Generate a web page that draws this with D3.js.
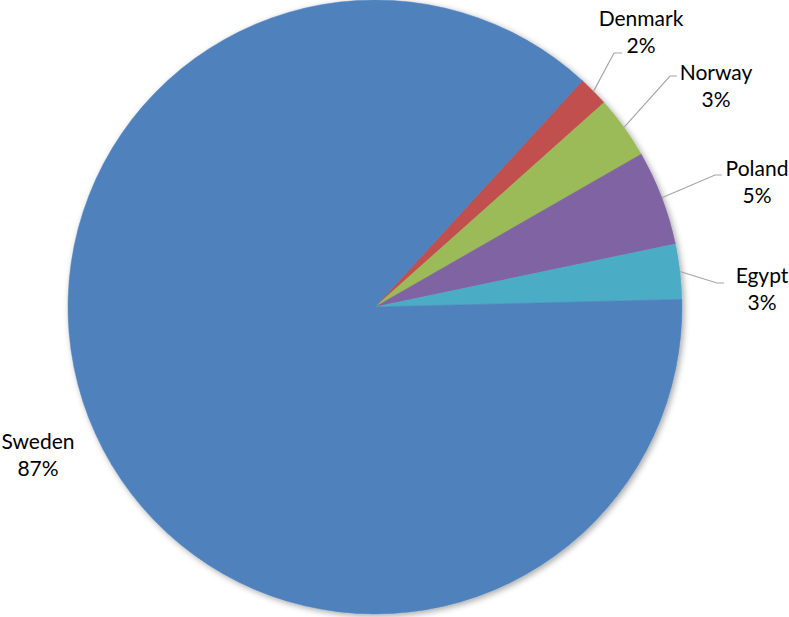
<!DOCTYPE html>
<html>
<head>
<meta charset="utf-8">
<script src="https://cdn.jsdelivr.net/npm/d3@7"></script>
<style>
  html, body { margin: 0; padding: 0; background: #fff; }
  svg { display: block; }
  text { font-family: Lato, "Open Sans", sans-serif; fill: #000; }
</style>
</head>
<body>
<svg id="chart" width="789" height="617"></svg>
<script>
// Share of total by country
const countries = ["Denmark", "Norway", "Poland", "Egypt", "Sweden"];
const shares = [1.6, 3.3, 5.0, 2.9, 87.2];
const colors = ["#C0504D", "#9BBB59", "#8064A2", "#4BACC6", "#4F81BD"];

// Label anchors: elbow of the leader line and text centre
const labelLayout = {
  Denmark: { elbow: [614, 53], end: [622, 53], tx: 641, ty: 26 },
  Norway:  { elbow: [670, 76], end: [677, 76], tx: 716, ty: 80 },
  Poland:  { elbow: [715, 175], end: [722, 175], tx: 757, ty: 176 },
  Egypt:   { elbow: [717, 283], end: [724, 283], tx: 762, ty: 283 },
  Sweden:  { elbow: null, end: null, tx: 38, ty: 449 }
};

const cx = 375, cy = 307, radius = 307;
const startDeg = 42.5;

const svg = d3.select("#chart");
const defs = svg.append("defs");
const shadow = defs.append("filter").attr("id", "pieShadow")
  .attr("x", "-10%").attr("y", "-10%").attr("width", "120%").attr("height", "120%");
shadow.append("feDropShadow")
  .attr("dx", 2).attr("dy", 2).attr("stdDeviation", 3)
  .attr("flood-color", "#000").attr("flood-opacity", 0.35);

const data = countries.map((c, i) => ({ country: c, value: shares[i], color: colors[i] }));
const total = d3.sum(shares);

const pie = d3.pie()
  .value(d => d.value)
  .sort(null)
  .startAngle(startDeg * Math.PI / 180)
  .endAngle((startDeg + 360) * Math.PI / 180);

const arc = d3.arc().innerRadius(0).outerRadius(radius);
const arcs = pie(data);

const g = svg.append("g").attr("transform", `translate(${cx},${cy})`);

g.append("g").attr("filter", "url(#pieShadow)")
  .selectAll("path")
  .data(arcs)
  .join("path")
  .attr("d", arc)
  .attr("fill", d => d.data.color)
  .attr("stroke", d => d.data.color)
  .attr("stroke-width", 0.5);

// Leader lines from slice edge (mid-angle) to label
const edgePoint = d => {
  const a = (d.startAngle + d.endAngle) / 2;
  return [cx + radius * Math.sin(a), cy - radius * Math.cos(a)];
};

svg.append("g").selectAll("polyline")
  .data(arcs.filter(d => labelLayout[d.data.country].elbow))
  .join("polyline")
  .attr("points", d => {
    const L = labelLayout[d.data.country];
    return [edgePoint(d), L.elbow, L.end].map(p => p.join(",")).join(" ");
  })
  .attr("fill", "none")
  .attr("stroke", "#a6a6a6")
  .attr("stroke-width", 1.2);

const labels = svg.append("g").selectAll("text")
  .data(arcs)
  .join("text")
  .attr("text-anchor", "middle")
  .style("font-size", "21px");

labels.append("tspan")
  .attr("x", d => labelLayout[d.data.country].tx)
  .attr("y", d => labelLayout[d.data.country].ty)
  .text(d => d.data.country);

labels.append("tspan")
  .attr("x", d => labelLayout[d.data.country].tx)
  .attr("y", d => labelLayout[d.data.country].ty + 27)
  .text(d => Math.round(d.data.value / total * 100) + "%");
</script>
</body>
</html>
